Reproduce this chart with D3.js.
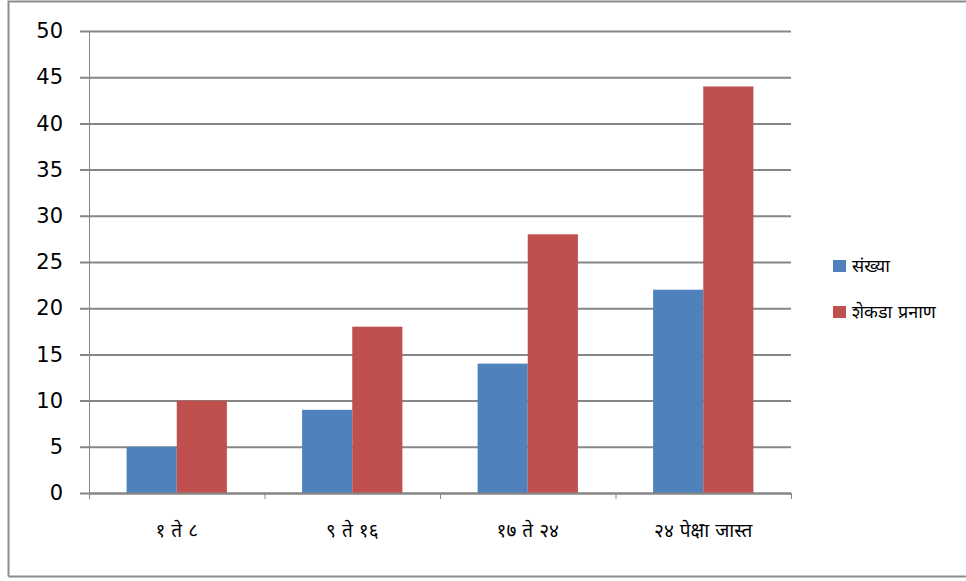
<!DOCTYPE html>
<html lang="mr">

<head>
	<meta charset="utf-8">
	<title>संख्या व शेकडा प्रमाण</title>
	<script src="https://d3js.org/d3.v7.min.js"></script>
	<style type="text/css">
		body {
			margin: 0;
			background: #ffffff;
		}
		svg text {
			font-family: "DejaVu Sans", "Noto Sans", sans-serif;
			fill: #000000;
		}
	</style>
</head>

<body>
	<script type="text/javascript">

		// data
		let categories = ["१ ते ८", "९ ते १६", "१७ ते २४", "२४ पेक्षा जास्त"];
		let seriesNames = ["संख्या", "शेकडा प्रनाण"];
		let countValues = [5, 9, 14, 22];
		let percentValues = [10, 18, 28, 44];
		let yTicks = [0, 5, 10, 15, 20, 25, 30, 35, 40, 45, 50];
		let colors = ["#4f81bd", "#c0504d"];

		//Width and height
		let w = 966;
		let h = 581;
		let plotLeft = 89;
		let plotRight = 791;
		let plotTop = 31;
		let plotBottom = 493;

		let rows = categories.map(function (c, i) {
			return { key: c, values: [countValues[i], percentValues[i]] };
		});

		let xScale = d3.scaleBand()
			.domain(categories)
			.range([plotLeft, plotRight]);

		let xInner = d3.scaleBand()
			.domain(d3.range(seriesNames.length))
			.range([0, xScale.bandwidth()])
			.paddingOuter(0.75)
			.paddingInner(0);

		let yScale = d3.scaleLinear()
			.domain([0, 50])
			.range([plotBottom, plotTop]);

		let svg = d3.select("body")
			.append("svg")
			.attr("width", w)
			.attr("height", h);

		// outer frame of the chart
		svg.append("path")
			.attr("d", "M8.5,576.5 L8.5,1.5 L966,1.5 M8.5,576.5 L966,576.5")
			.attr("fill", "none")
			.attr("stroke", "#8c8c8c")
			.attr("stroke-width", 2);

		// gridlines + y axis
		let yAxis = d3.axisLeft(yScale)
			.tickValues(yTicks)
			.tickSize(-(plotRight - plotLeft))
			.tickPadding(17);

		let yG = svg.append("g")
			.attr("transform", "translate(" + plotLeft + ",0)")
			.call(yAxis);

		yG.select(".domain").remove();
		yG.selectAll(".tick line")
			.attr("x1", -9)
			.attr("stroke", "#868686")
			.attr("stroke-width", 2);
		yG.selectAll(".tick text")
			.attr("x", -26)
			.attr("font-size", "21px")
			.style("font-family", "'DejaVu Sans', sans-serif");

		svg.append("line")
			.attr("x1", plotLeft + 0.5)
			.attr("x2", plotLeft + 0.5)
			.attr("y1", plotTop)
			.attr("y2", plotBottom + 6)
			.attr("stroke", "#868686")
			.attr("stroke-width", 1);

		//Create bars
		let groups = svg.selectAll("g.group")
			.data(rows)
			.enter()
			.append("g")
			.attr("class", "group")
			.attr("transform", function (d) {
				return "translate(" + xScale(d.key) + ",0)";
			});

		groups.selectAll("rect")
			.data(function (d) { return d.values; })
			.enter()
			.append("rect")
			.attr("x", function (d, i) { return xInner(i); })
			.attr("y", function (d) { return yScale(d); })
			.attr("width", xInner.bandwidth())
			.attr("height", function (d) { return plotBottom - yScale(d); })
			.attr("fill", function (d, i) { return colors[i]; });

		// x axis with category ticks between groups
		let xG = svg.append("g")
			.attr("transform", "translate(0," + plotBottom + ")");

		xG.append("line")
			.attr("x1", plotLeft)
			.attr("x2", plotRight)
			.attr("y1", 0.5)
			.attr("y2", 0.5)
			.attr("stroke", "#868686")
			.attr("stroke-width", 2);

		xG.selectAll("line.tick")
			.data(categories.concat([null]))
			.enter()
			.append("line")
			.attr("class", "tick")
			.attr("x1", function (d, i) { return plotLeft + i * xScale.step() + 0.5; })
			.attr("x2", function (d, i) { return plotLeft + i * xScale.step() + 0.5; })
			.attr("y1", 0)
			.attr("y2", 6)
			.attr("stroke", "#868686")
			.attr("stroke-width", 1);

		xG.selectAll("text")
			.data(categories)
			.enter()
			.append("text")
			.text(function (d) { return d; })
			.attr("x", function (d) { return xScale(d) + xScale.bandwidth() / 2; })
			.attr("y", 37)
			.attr("dy", "0.35em")
			.attr("text-anchor", "middle")
			.attr("font-size", "19px");

		// legend
		let legend = svg.selectAll("g.legend")
			.data(seriesNames)
			.enter()
			.append("g")
			.attr("class", "legend")
			.attr("transform", function (d, i) {
				return "translate(833," + (260 + i * 46) + ")";
			});

		legend.append("rect")
			.attr("width", 13)
			.attr("height", 12)
			.attr("fill", function (d, i) { return colors[i]; });

		legend.append("text")
			.text(function (d) { return d; })
			.attr("x", 19)
			.attr("y", 6)
			.attr("dy", "0.35em")
			.attr("font-size", "18px");

	</script>
</body>

</html>
